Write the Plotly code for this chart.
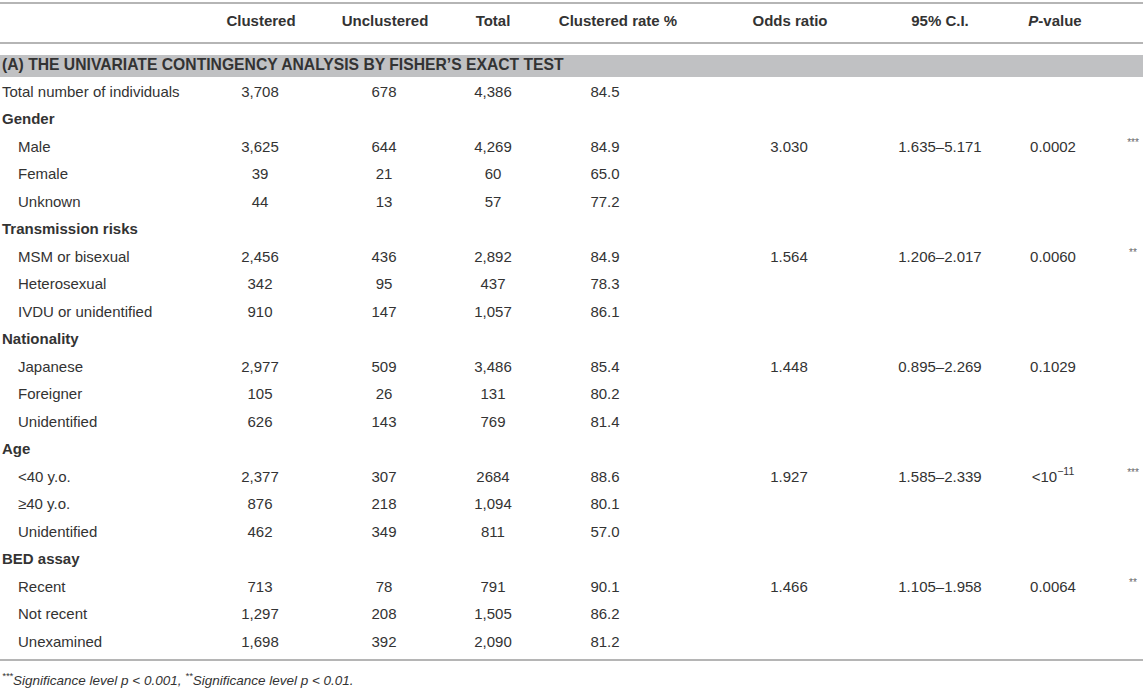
import plotly.graph_objects as go

# table content
headers = ["Clustered", "Unclustered", "Total", "Clustered rate %", "Odds ratio", "95% C.I.", "<i>P</i>-value"]
section_title = "(A) THE UNIVARIATE CONTINGENCY ANALYSIS BY FISHER\u2019S EXACT TEST"

labels = ["Total number of individuals", "Gender", "Male", "Female", "Unknown",
          "Transmission risks", "MSM or bisexual", "Heterosexual", "IVDU or unidentified",
          "Nationality", "Japanese", "Foreigner", "Unidentified",
          "Age", "&lt;40 y.o.", "\u226540 y.o.", "Unidentified",
          "BED assay", "Recent", "Not recent", "Unexamined"]
group_rows = ["Gender", "Transmission risks", "Nationality", "Age", "BED assay"]

clustered = ["3,708", "", "3,625", "39", "44", "", "2,456", "342", "910", "", "2,977", "105", "626",
             "", "2,377", "876", "462", "", "713", "1,297", "1,698"]
unclustered = ["678", "", "644", "21", "13", "", "436", "95", "147", "", "509", "26", "143",
               "", "307", "218", "349", "", "78", "208", "392"]
total = ["4,386", "", "4,269", "60", "57", "", "2,892", "437", "1,057", "", "3,486", "131", "769",
         "", "2684", "1,094", "811", "", "791", "1,505", "2,090"]
rate = ["84.5", "", "84.9", "65.0", "77.2", "", "84.9", "78.3", "86.1", "", "85.4", "80.2", "81.4",
        "", "88.6", "80.1", "57.0", "", "90.1", "86.2", "81.2"]
odds = ["", "", "3.030", "", "", "", "1.564", "", "", "", "1.448", "", "",
        "", "1.927", "", "", "", "1.466", "", ""]
ci = ["", "", "1.635\u20135.171", "", "", "", "1.206\u20132.017", "", "", "", "0.895\u20132.269", "", "",
      "", "1.585\u20132.339", "", "", "", "1.105\u20131.958", "", ""]
pval = ["", "", "0.0002", "", "", "", "0.0060", "", "", "", "0.1029", "", "",
        "", "&lt;10<sup>\u221211</sup>", "", "", "", "0.0064", "", ""]
stars = ["", "", "***", "", "", "", "**", "", "", "", "", "", "",
         "", "***", "", "", "", "**", "", ""]
footnote = ("<i><sup>***</sup>Significance level p &lt; 0.001, "
            "<sup>**</sup>Significance level p &lt; 0.01.</i>")

# layout constants (pixel-like axis units)
W, H = 1143, 691
FONT = "Liberation Sans, Arial, sans-serif"
TXT = "#333333"
RULE = "#b5b5b5"
FS = 15
first_row, pitch = 93, 27.5
header_y = 22
col_x = [260, 384, 493, 605, 789, 940, 1053]
head_x = [261, 385, 493, 618, 790, 940, 1055]
star_x = 1133

row_y = [first_row + i * pitch for i in range(len(labels))]

fig = go.Figure()

def text_trace(x, y, text, pos="middle center", size=FS, color=TXT):
    return go.Scatter(x=x, y=y, text=text, mode="text", textposition=pos,
                      textfont=dict(family=FONT, size=size, color=color),
                      cliponaxis=False, hoverinfo="skip", showlegend=False)

# row labels
lab_x = [2 if (l in group_rows or i == 0) else 18 for i, l in enumerate(labels)]
lab_txt = ["<b>%s</b>" % l if l in group_rows else l for l in labels]
fig.add_trace(text_trace(lab_x, row_y, lab_txt, pos="middle right"))

for cx, col in zip(col_x, [clustered, unclustered, total, rate, odds, ci, pval]):
    fig.add_trace(text_trace([cx] * len(col), row_y, col))

fig.add_trace(text_trace([star_x] * len(stars), [y - 5 for y in row_y], stars,
                         size=10, color="#666666"))

# header
fig.add_trace(text_trace(head_x, [header_y] * len(headers), ["<b>%s</b>" % h for h in headers]))

# section title
fig.add_trace(text_trace([2], [66], ["<b>%s</b>" % section_title], pos="middle right", size=15.7))

shapes = [
    dict(type="rect", xref="paper", yref="y", x0=0, x1=1, y0=55, y1=77,
         fillcolor="#c0c1c3", line=dict(width=0), layer="below"),
]
for yy in [3, 43, 660]:
    shapes.append(dict(type="line", xref="paper", yref="y", x0=0, x1=1, y0=yy, y1=yy,
                       line=dict(color=RULE, width=2)))

fig.update_layout(
    width=W, height=H,
    margin=dict(l=0, r=0, t=0, b=0),
    paper_bgcolor="white", plot_bgcolor="white",
    xaxis=dict(range=[0, W], visible=False, fixedrange=True),
    yaxis=dict(range=[H, 0], visible=False, fixedrange=True),
    shapes=shapes,
    annotations=[dict(x=0, y=679, xref="paper", yref="y", xanchor="left", yanchor="middle",
                      text=footnote, showarrow=False,
                      font=dict(family=FONT, size=13.5, color=TXT))],
)

fig.write_html("out.html", config={"displayModeBar": False},
               post_script="document.body.style.margin='0';")
